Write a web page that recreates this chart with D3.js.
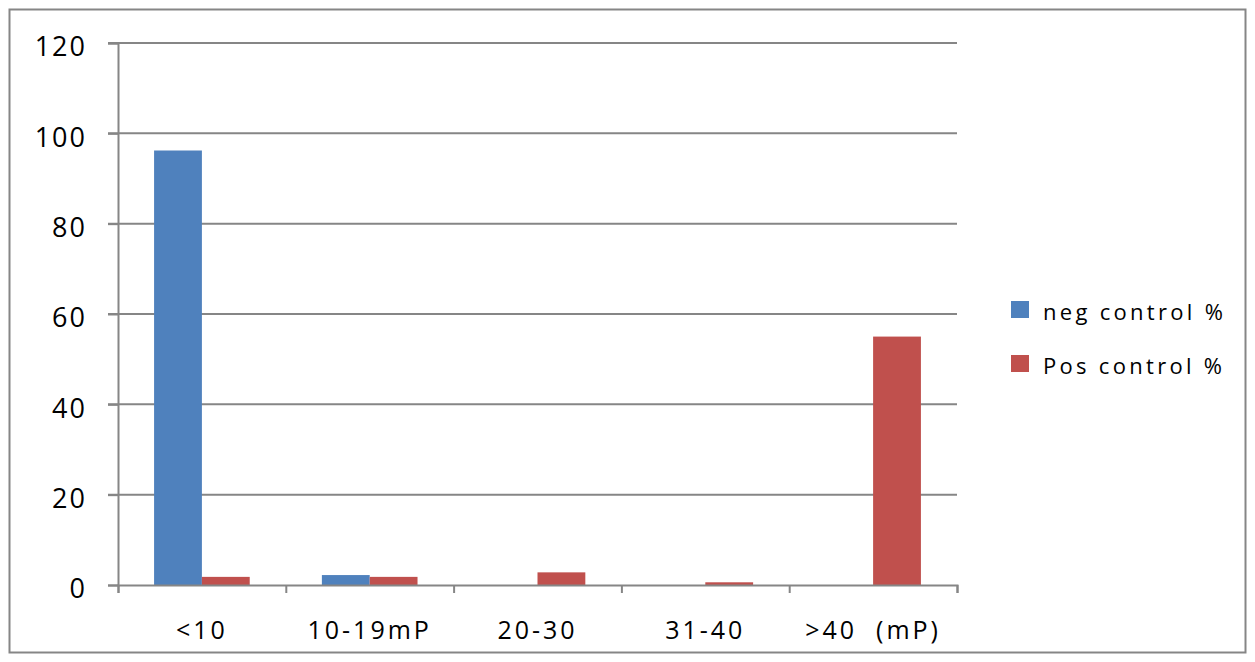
<!DOCTYPE html>
<html>
<head>
<meta charset="utf-8">
<script src="https://d3js.org/d3.v7.min.js"></script>
<style>
    body { margin: 0; background: #fff; }
    text { font-family: "Open Sans", "Liberation Sans", sans-serif; fill: #000; }
</style>
</head>
<body>
<div id="chart"></div>
<script>
// categories and values
const categories = ["<10", "10-19mP", "20-30", "31-40", ">40  (mP)"];
const seriesNames = ["neg control %", "Pos control %"];
const negValues = [96.2, 2.2, 0, 0, 0];
const posValues = [1.8, 1.8, 2.8, 0.6, 55];
const yTicks = [0, 20, 40, 60, 80, 100, 120];
const colors = ["#4F81BD", "#C0504D"];

class BarChart {
    constructor(_parentElement) {
        this.parentElement = _parentElement;
        this.initVis();
    }

    initVis() {
        let vis = this;
        vis.margin = { top: 43, left: 118 };
        vis.width = 957 - 118;
        vis.height = 585 - 43;

        vis.root = d3.select("#" + vis.parentElement).append("svg")
            .attr("width", 1255)
            .attr("height", 662);

        // outer chart border
        vis.root.append("rect")
            .attr("x", 9.5).attr("y", 9.5)
            .attr("width", 1236).attr("height", 643)
            .attr("fill", "none")
            .attr("stroke", "#868686")
            .attr("stroke-width", 2);

        vis.svg = vis.root.append("g")
            .attr("transform", "translate(" + vis.margin.left + "," + vis.margin.top + ")");

        vis.x = d3.scaleBand()
            .domain(categories)
            .range([0, vis.width])
            .paddingInner(0.43)
            .paddingOuter(0.215);

        vis.x1 = d3.scaleBand()
            .domain(seriesNames)
            .range([0, vis.x.bandwidth()]);

        vis.y = d3.scaleLinear()
            .domain([0, 120])
            .range([vis.height, 0]);

        vis.data = categories.map((c, i) => ({ cat: c, values: [negValues[i], posValues[i]] }));

        vis.updateVis();
    }

    updateVis() {
        let vis = this;

        // gridlines
        vis.svg.append("g")
            .selectAll("line")
            .data(yTicks.filter(d => d > 0))
            .enter().append("line")
            .attr("x1", -10).attr("x2", vis.width)
            .attr("y1", d => vis.y(d)).attr("y2", d => vis.y(d))
            .attr("stroke", "#868686")
            .attr("stroke-width", 2);

        // bars
        let groups = vis.svg.selectAll(".grp")
            .data(vis.data)
            .enter().append("g")
            .attr("class", "grp")
            .attr("transform", d => "translate(" + vis.x(d.cat) + ",0)");

        groups.selectAll("rect")
            .data(d => d.values.map((v, i) => ({ key: seriesNames[i], v: v, i: i })))
            .enter().append("rect")
            .attr("x", d => vis.x1(d.key))
            .attr("width", vis.x1.bandwidth())
            .attr("y", d => vis.y(d.v))
            .attr("height", d => vis.height - vis.y(d.v))
            .attr("fill", d => colors[d.i]);

        // y axis
        vis.yAxis = d3.axisLeft(vis.y)
            .tickValues(yTicks)
            .tickSize(10)
            .tickPadding(21);
        let ya = vis.svg.append("g").attr("class", "y-axis").call(vis.yAxis);
        ya.select(".domain").attr("stroke", "#868686").attr("stroke-width", 2);
        ya.selectAll(".tick line").attr("stroke", "#868686").attr("stroke-width", 2);
        ya.selectAll("text")
            .attr("dy", "0.47em")
            .style("font-size", "27px")
            .style("letter-spacing", "2px")
            .attr("fill", "#000");

        // x axis
        vis.xLin = d3.scaleLinear().domain([0, categories.length]).range([0, vis.width]);
        vis.xAxis = d3.axisBottom(vis.xLin)
            .tickValues(d3.range(categories.length + 1))
            .tickSize(8)
            .tickFormat("");
        let xa = vis.svg.append("g")
            .attr("transform", "translate(0," + vis.height + ")")
            .call(vis.xAxis);
        xa.select(".domain").attr("stroke", "#868686").attr("stroke-width", 2);
        xa.selectAll(".tick line").attr("stroke", "#868686").attr("stroke-width", 2);

        vis.svg.append("g")
            .selectAll("text")
            .data(categories)
            .enter().append("text")
            .attr("x", d => vis.x(d) + vis.x.bandwidth() / 2)
            .attr("y", vis.height + 54)
            .attr("text-anchor", "middle")
            .style("font-size", "25px")
            .style("letter-spacing", "3px")
            .style("white-space", "pre")
            .text(d => d);

        // legend
        let legend = vis.root.append("g")
            .attr("transform", "translate(1011,301)");
        let items = legend.selectAll("g")
            .data(seriesNames)
            .enter().append("g")
            .attr("transform", (d, i) => "translate(0," + i * 54 + ")");
        items.append("rect")
            .attr("width", 18).attr("height", 17)
            .attr("fill", (d, i) => colors[i]);
        items.append("text")
            .attr("x", 32).attr("y", 19)
            .style("font-size", "22px")
            .style("letter-spacing", "3.3px")
            .text(d => d);
    }
}

new BarChart("chart");
</script>
</body>
</html>
